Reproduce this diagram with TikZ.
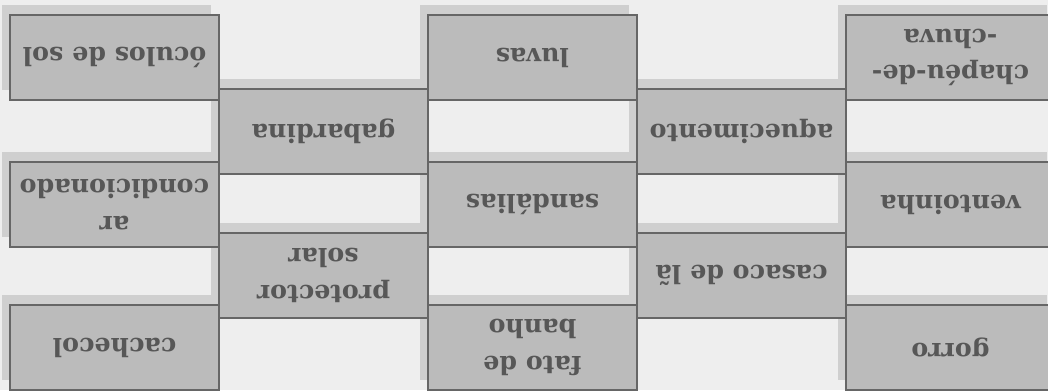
\documentclass[tikz,border=0pt]{standalone}
\usepackage{fontspec}
\setmainfont{DejaVu Serif}

\definecolor{pagebg}{HTML}{EEEEEE}
\definecolor{shadowgray}{HTML}{CFCFCF}
\definecolor{boxfill}{HTML}{BBBBBB}
\definecolor{boxline}{HTML}{666666}
\definecolor{wordcol}{HTML}{575757}

\tikzset{
  wordbox/.style={draw=boxline, line width=1.4pt, fill=boxfill,
    minimum width=5.225cm, minimum height=2.125cm, inner sep=0pt,
    rotate=180, align=center, text=wordcol,
    font=\fontsize{18}{26}\selectfont\bfseries},
}

\begin{document}
\begin{tikzpicture}[x=0.025cm,y=-0.025cm]
\useasboundingbox (0,0) rectangle (1048,390);
\clip (0,0) rectangle (1048,390);
\fill[pagebg] (0,0) rectangle (1048,390);
% shadows behind the cards
\foreach \cx/\cy in {114.5/57.5,114.5/204.5,114.5/347.5,323.5/131.5,323.5/275.5,
  532.5/57.5,532.5/204.5,532.5/347.5,741.5/131.5,741.5/275.5,
  950.5/57.5,950.5/204.5,950.5/347.5}
  \fill[shadowgray] (\cx-112.5,\cy-52.5) rectangle +(209,85);
% first column
\node[wordbox] (oculos) at (114.5,57.5) {óculos de sol};
\node[wordbox] (arcond) at (114.5,204.5) {ar\\condicionado};
\node[wordbox] (cachecol) at (114.5,347.5) {cachecol};
% second column
\node[wordbox] (gabardina) at (323.5,131.5) {gabardina};
\node[wordbox] (protector) at (323.5,275.5) {protector\\solar};
% third column
\node[wordbox] (luvas) at (532.5,57.5) {luvas};
\node[wordbox] (sandalias) at (532.5,204.5) {sandálias};
\node[wordbox] (fato) at (532.5,347.5) {fato de\\banho};
% fourth column
\node[wordbox] (aquecimento) at (741.5,131.5) {aquecimento};
\node[wordbox] (casaco) at (741.5,275.5) {casaco de lã};
% fifth column
\node[wordbox] (chapeu) at (950.5,57.5) {chapéu-de-\\-chuva};
\node[wordbox] (ventoinha) at (950.5,204.5) {ventoinha};
\node[wordbox] (gorro) at (950.5,347.5) {gorro};
\end{tikzpicture}
\end{document}
